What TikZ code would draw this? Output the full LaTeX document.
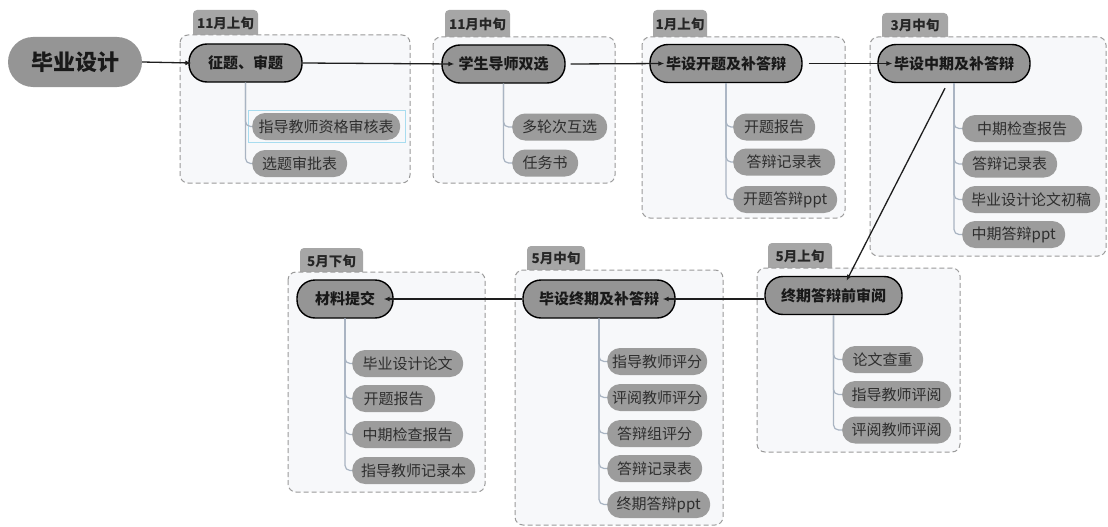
\documentclass[tikz,border=0pt]{standalone}
\usepackage{fontspec}
\setmainfont{Noto Sans CJK SC}
\usetikzlibrary{arrows.meta,calc}
\definecolor{nodegray}{HTML}{959595}
\definecolor{subgray}{HTML}{9C9C9C}
\definecolor{boxbg}{HTML}{F7F8FA}
\definecolor{boxline}{HTML}{9A9A9A}
\definecolor{tabgray}{HTML}{A6A6A6}
\definecolor{treeline}{HTML}{A9B4C2}
\definecolor{subtext}{HTML}{2E2E2E}
\definecolor{selblue}{HTML}{A8DCEF}
\definecolor{arrowc}{HTML}{1E1E1E}
\tikzset{
  rootnode/.style={fill=nodegray, rounded corners=25pt, minimum height=50pt, inner sep=0pt,
    font=\fontsize{22}{25}\selectfont\bfseries, text=black!90},
  topic/.style={draw=black, line width=1.4pt, fill=nodegray, rounded corners=18pt, minimum height=38pt,
    inner sep=0pt, font=\fontsize{15}{17}\selectfont\bfseries, text=black!90},
  sub/.style={fill=subgray, rounded corners=13pt, minimum height=27pt, inner sep=0pt, anchor=west,
    font=\fontsize{15}{17}\selectfont, text=subtext},
  grpbox/.style={draw=boxline, fill=boxbg, line width=1pt, dash pattern=on 5pt off 3pt, rounded corners=8pt},
  tabfill/.style={fill=tabgray},
  tabtext/.style={inner sep=0pt, font=\fontsize{13.5}{15}\selectfont\bfseries, text=black!85},
  tree/.style={draw=treeline, line width=1.2pt, rounded corners=5pt},
  flow/.style={draw=arrowc, line width=1.3pt, -{Latex[length=6pt,width=5pt]}},
  selbox/.style={draw=selblue, line width=1pt}
}
\begin{document}
\begin{tikzpicture}[x=1pt,y=-1pt]
\useasboundingbox (0,0) rectangle (1108,527);
% ---------- groups: tabs and dashed boxes ----------
% G1
\fill[tabfill] (193,40) [rounded corners=4pt] -- (193,10) -- (258,10) [sharp corners] -- (258,40) -- cycle;
\draw[grpbox] (180,35) rectangle (410,183);
\node[tabtext] (tab1) at (225.5,23) {11月上旬};
% G2
\fill[tabfill] (445,42) [rounded corners=4pt] -- (445,10) -- (510,10) [sharp corners] -- (510,42) -- cycle;
\draw[grpbox] (433,37) rectangle (615,183);
\node[tabtext] (tab2) at (477.5,24) {11月中旬};
% G3
\fill[tabfill] (653,42) [rounded corners=4pt] -- (653,10) -- (707,10) [sharp corners] -- (707,42) -- cycle;
\draw[grpbox] (642,37) rectangle (845,218);
\node[tabtext] (tab3) at (680,24) {1月上旬};
% G4
\fill[tabfill] (882,42) [rounded corners=4pt] -- (882,13) -- (948,13) [sharp corners] -- (948,42) -- cycle;
\draw[grpbox] (870,37) rectangle (1106,256);
\node[tabtext] (tab4) at (915,25.5) {3月中旬};
% G5
\fill[tabfill] (768,273) [rounded corners=4pt] -- (768,243) -- (832,243) [sharp corners] -- (832,273) -- cycle;
\draw[grpbox] (757,268) rectangle (960,452);
\node[tabtext] (tab5) at (800,256) {5月上旬};
% G6
\fill[tabfill] (527,275) [rounded corners=4pt] -- (527,246) -- (585,246) [sharp corners] -- (585,275) -- cycle;
\draw[grpbox] (515,270) rectangle (723,525);
\node[tabtext] (tab6) at (556,258.5) {5月中旬};
% G7
\fill[tabfill] (300,277) [rounded corners=4pt] -- (300,248) -- (363,248) [sharp corners] -- (363,277) -- cycle;
\draw[grpbox] (288,272) rectangle (485,492);
\node[tabtext] (tab7) at (331.5,261) {5月下旬};

% ---------- main nodes ----------
\node[rootnode, minimum width=134pt] (root) at (75,62) {毕业设计};
\node[topic, minimum width=113pt] (t1) at (245.5,63) {征题、审题};
\node[topic, minimum width=123pt] (t2) at (503.5,64) {学生导师双选};
\node[topic, minimum width=152pt] (t3) at (726,63.5) {毕设开题及补答辩};
\node[topic, minimum width=152pt] (t4) at (954,63.5) {毕设中期及补答辩};
\node[topic, minimum width=137pt] (t5) at (833.5,295.5) {终期答辩前审阅};
\node[topic, minimum width=152pt] (t6) at (599,299) {毕设终期及补答辩};
\node[topic, minimum width=96pt] (t7) at (345,299) {材料提交};

% ---------- sub nodes ----------
\node[sub, minimum width=148pt] (s11) at (252,126.5) {指导教师资格审核表};
\node[sub, minimum width=95pt] (s12) at (252,163.5) {选题审批表};
\node[selbox, minimum width=157pt, minimum height=32pt, inner sep=0pt] (sel) at (326.5,126) {};

\node[sub, minimum width=95pt] (s21) at (512,127) {多轮次互选};
\node[sub, minimum width=66pt] (s22) at (512,163) {任务书};

\node[sub, minimum width=82pt] (s31) at (733,127) {开题报告};
\node[sub, minimum width=102pt] (s32) at (733,162) {答辩记录表};
\node[sub, minimum width=104pt] (s33) at (733,199.5) {开题答辩ppt};

\node[sub, minimum width=120pt] (s41) at (962,128.5) {中期检查报告};
\node[sub, minimum width=95pt] (s42) at (962,164) {答辩记录表};
\node[sub, minimum width=138pt] (s43) at (962,199.5) {毕业设计论文初稿};
\node[sub, minimum width=103pt] (s44) at (962,234.5) {中期答辩ppt};

\node[sub, minimum width=81pt] (s51) at (842,359.5) {论文查重};
\node[sub, minimum width=109pt] (s52) at (842,394.5) {指导教师评阅};
\node[sub, minimum width=109pt] (s53) at (842,430) {评阅教师评阅};

\node[sub, minimum width=100pt] (s61) at (607,361.5) {指导教师评分};
\node[sub, minimum width=100pt] (s62) at (607,397.5) {评阅教师评分};
\node[sub, minimum width=95pt] (s63) at (607,433.5) {答辩组评分};
\node[sub, minimum width=95pt] (s64) at (607,468.5) {答辩记录表};
\node[sub, minimum width=103pt] (s65) at (607,504.5) {终期答辩ppt};

\node[sub, minimum width=111pt] (s71) at (352,363.5) {毕业设计论文};
\node[sub, minimum width=83pt] (s72) at (352,398.5) {开题报告};
\node[sub, minimum width=111pt] (s73) at (352,434.5) {中期检查报告};
\node[sub, minimum width=123pt] (s74) at (352,470.5) {指导教师记录本};

% ---------- tree lines ----------
\foreach \c in {s11,s12} \draw[tree] (t1.south) |- (\c.west);
\foreach \c in {s21,s22} \draw[tree] (t2.south) |- (\c.west);
\foreach \c in {s31,s32,s33} \draw[tree] (t3.south) |- (\c.west);
\foreach \c in {s41,s42,s43,s44} \draw[tree] (t4.south) |- (\c.west);
\foreach \c in {s51,s52,s53} \draw[tree] (t5.south) |- (\c.west);
\foreach \c in {s61,s62,s63,s64,s65} \draw[tree] (t6.south) |- (\c.west);
\foreach \c in {s71,s72,s73,s74} \draw[tree] (t7.south) |- (\c.west);

% ---------- flow arrows ----------
\draw[flow] (root.east) -- ($(t1.west)+(3,0)$);
\draw[flow] (t1.east) -- ($(t2.west)+(13,0)$);
\draw[flow] ($(t2.east)+(5,0)$) -- ($(t3.west)+(15,0)$);
\draw[flow] ($(t3.east)+(6,0)$) -- ($(t4.west)+(15,0)$);
\draw[flow] ($(t4.south)+(-9,5)$) -- ($(t5.north)+(13,5)$);
\draw[flow] (t5.west |- t6.center) -- ($(t6.east)+(-13,0)$);
\draw[flow] (t6.west) -- ($(t7.east)+(-10,0)$);
\end{tikzpicture}
\end{document}
